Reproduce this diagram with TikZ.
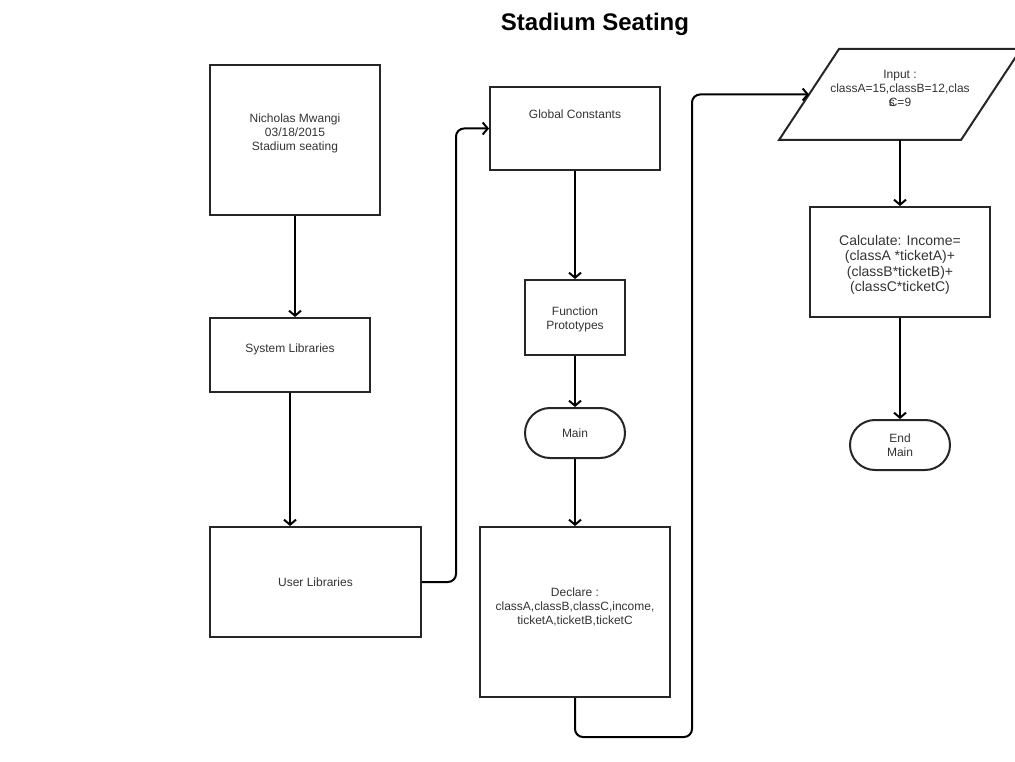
\documentclass[tikz,border=0pt]{standalone}
\usepackage{fontspec}
\setmainfont{Liberation Sans}
\usetikzlibrary{arrows.meta}

\begin{document}
\begin{tikzpicture}[x=1pt,y=-1pt,
	blk/.style={draw=black!85,line width=2pt,align=center,text=black!80,font=\fontsize{12}{14}\selectfont},
	pill/.style={blk,minimum width=100pt,minimum height=50pt,rounded corners=25pt},
	flow/.style={draw,line width=2pt,-{Straight Barb[length=5pt,width=12pt]}}]
	\useasboundingbox (0,0) rectangle (1015,762);
	\node[font=\fontsize{24}{28}\selectfont\bfseries] (title) at (595,24) {Stadium Seating};
	
	\node[blk,minimum width=170pt,minimum height=150pt,text depth=15pt] (info) at (295,140) {Nicholas Mwangi\\03/18/2015\\Stadium seating};
	\node[blk,minimum width=160pt,minimum height=74pt,text depth=14pt] (sys) at (290,355) {System Libraries};
	\node[blk,minimum width=211pt,minimum height=110pt] (usr) at (315.5,582) {User Libraries};
	\node[blk,minimum width=170pt,minimum height=83pt,text depth=28pt] (glob) at (575,128.5) {Global Constants};
	\node[blk,minimum width=100pt,minimum height=75pt,text height=27pt] (proto) at (575,317.5) {Function\\Prototypes};
	\node[pill] (main) at (575,433) {Main};
	\node[blk,minimum width=190pt,minimum height=170pt,text depth=11pt] (decl) at (575,612) {Declare :\\classA,classB,classC,income,\\ticketA,ticketB,ticketC};
	\node[blk,draw=none,minimum width=180pt,minimum height=89pt,text depth=12pt] (in) at (900,94.5) {Input :\\classA=15,classB=12,clas\\\rlap{s}C=9};
	\draw[blk] ([xshift=-30pt]in.south west) -- ([xshift=-30pt]in.south east) -- ([xshift=30pt]in.north east) -- ([xshift=30pt]in.north west) -- cycle;
	\node[blk,minimum width=180pt,minimum height=110pt,text height=62pt,font=\fontsize{14}{15.5}\selectfont] (calc) at (900,262) {Calculate: Income=\\(classA *ticketA)+\\(classB*ticketB)+\\(classC*ticketC)};
	\node[pill] (end) at (900,445) {End\\Main};
	
	\coordinate (j1) at (456,582);
	\coordinate (j2) at (692,737);
	\draw[flow] (info.south) -- (info.south |- sys.north);
	\draw[flow] (sys.south) -- (sys.south |- usr.north);
	\draw[flow,rounded corners=8pt] (usr.east) -- (j1) |- (glob.west);
	\draw[flow] (glob) -- (proto);
	\draw[flow] (proto) -- (main);
	\draw[flow] (main) -- (decl);
	\draw[flow,rounded corners=8pt] (decl.south) |- (j2) |- (in.west);
	\draw[flow] (in) -- (calc);
	\draw[flow] (calc) -- (end);
\end{tikzpicture}
\end{document}
